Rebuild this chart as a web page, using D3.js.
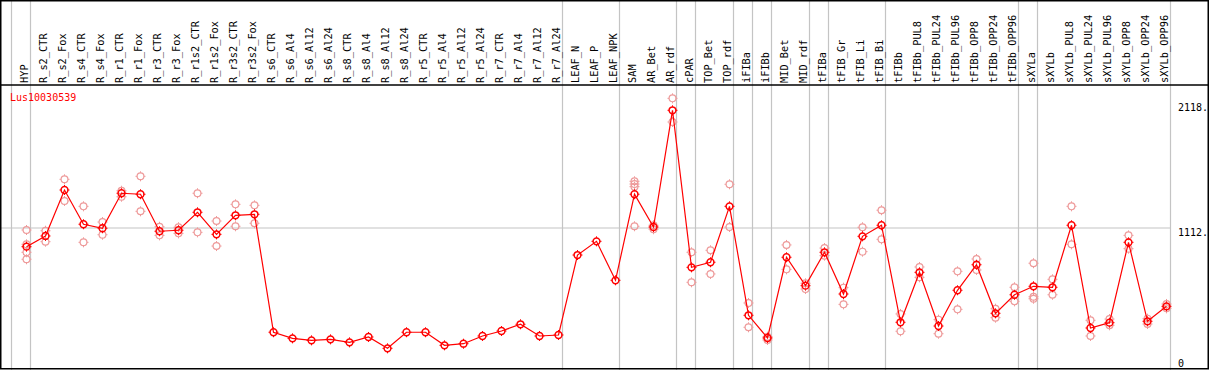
<!DOCTYPE html>
<html>
<head>
<meta charset="utf-8">
<script src="https://cdn.jsdelivr.net/npm/d3@7"></script>
<style>
  html, body { margin: 0; padding: 0; background: #fff; }
  svg { display: block; font-family: "DejaVu Sans Mono", monospace; }
</style>
</head>
<body>
<svg></svg>
<script>
const WIDTH = 1209;
const HEIGHT = 370;
const HEADER = 85;
const GRAY = "#c4c4c4";

const GENE = "Lus10030539";

const COLUMNS = [
  "HYP", "R_s2_CTR", "R_s2_Fox", "R_s4_CTR", "R_s4_Fox", "R_r1_CTR", "R_r1_Fox",
  "R_r3_CTR", "R_r3_Fox", "R_r1s2_CTR", "R_r1s2_Fox", "R_r3s2_CTR", "R_r3s2_Fox",
  "R_s6_CTR", "R_s6_Al4", "R_s6_Al12", "R_s6_Al24", "R_s8_CTR", "R_s8_Al4",
  "R_s8_Al12", "R_s8_Al24", "R_r5_CTR", "R_r5_Al4", "R_r5_Al12", "R_r5_Al24",
  "R_r7_CTR", "R_r7_Al4", "R_r7_Al12", "R_r7_Al24", "LEAF_N", "LEAF_P", "LEAF_NPK",
  "SAM", "AR_Bet", "AR_rdf", "cPAR", "TOP_Bet", "TOP_rdf", "iFIBa", "iFIBb",
  "MID_Bet", "MID_rdf", "tFIBa", "tFIB_Gr", "tFIB_Li", "tFIB_Bi", "tFIBb",
  "tFIBb_PUL8", "tFIBb_PUL24", "tFIBb_PUL96", "tFIBb_OPP8", "tFIBb_OPP24",
  "tFIBb_OPP96", "sXYLa", "sXYLb", "sXYLb_PUL8", "sXYLb_PUL24", "sXYLb_PUL96",
  "sXYLb_OPP8", "sXYLb_OPP24", "sXYLb_OPP96"
];

// mean expression per column
const MEANS = [
  962, 1048, 1417, 1142, 1110, 1391, 1383, 1086, 1094, 1238, 1061, 1214, 1222,
  275, 226, 210, 218, 194, 237, 146, 275, 275, 170, 183, 245, 285, 339, 245, 253,
  895, 1005, 692,
  1383, 1120, 2057, 796, 837, 1286, 411, 229, 877, 649, 917, 582, 1045, 1134,
  355, 756, 325, 612, 817, 427, 576, 644, 636, 1134, 309, 352, 997, 363, 483
];

// individual replicates per column
const REPLICATES = [
  [1096, 981, 917, 861], [1090, 1002], [1503, 1329], [1286, 997], [1160, 1058],
  [1411, 1363], [1527, 1246], [1122, 1053], [1118, 1069], [1391, 1077],
  [1168, 967], [1302, 1126], [1294, 1150],
  [], [], [], [], [], [], [], [], [], [], [], [], [], [], [], [],
  [], [], [],
  [1487, 1465, 1444, 1126], [1134, 1102], [2153, 1963], [917, 676], [933, 743],
  [1463, 1120], [510, 315], [213, 239], [976, 780], [668, 622], [951, 890],
  [633, 499], [1118, 922], [1255, 1021],
  [422, 283], [799, 716], [376, 263], [764, 459], [863, 775], [464, 392],
  [636, 523], [829, 560, 544], [700, 576], [1286, 981], [371, 245], [381, 331],
  [1053, 946], [384, 341], [502, 467]
];

// index of the last column in each tissue group
const GROUP_ENDS = [-1, 0, 28, 31, 34, 35, 37, 38, 39, 41, 42, 45, 52, 53, 60];

const Y_TICKS = [0, 1112, 2118];

let xScale, yScale;

function setUpScales() {
  xScale = d3.scalePoint().domain(COLUMNS).range([26.5, 1166.5]);
  yScale = d3.scaleLinear().domain([0, 2118]).range([366.5, 102.7]);
}

function colX(i) {
  return xScale(COLUMNS[0]) + i * xScale.step();
}

function drawFrame($svg) {
  // group separators
  $svg.append("g")
    .selectAll("line")
    .data(GROUP_ENDS)
    .enter()
    .append("line")
    .attr("x1", d => colX(d) + 4)
    .attr("x2", d => colX(d) + 4)
    .attr("y1", 0)
    .attr("y2", HEIGHT)
    .attr("stroke", GRAY)
    .attr("stroke-width", 1.2);

  $svg.append("line")
    .attr("x1", 0).attr("x2", colX(60) + 4)
    .attr("y1", yScale(1112)).attr("y2", yScale(1112))
    .attr("stroke", GRAY)
    .attr("stroke-width", 1.2);

  $svg.append("line")
    .attr("x1", 0).attr("x2", WIDTH)
    .attr("y1", HEADER).attr("y2", HEADER)
    .attr("stroke", "#000").attr("stroke-width", 1.5);

  $svg.append("rect")
    .attr("x", 0.75).attr("y", 0.75)
    .attr("width", WIDTH - 1.5).attr("height", HEIGHT - 2)
    .attr("fill", "none")
    .attr("stroke", "#000").attr("stroke-width", 1.5);
}

function drawLabels($svg) {
  $svg.append("g")
    .selectAll("text")
    .data(COLUMNS)
    .enter()
    .append("text")
    .attr("transform", d => `translate(${xScale(d) + 1},83) rotate(-90)`)
    .attr("font-size", 10.3)
    .attr("fill", "#000")
    .text(d => d);

  $svg.append("g")
    .selectAll("text")
    .data(Y_TICKS)
    .enter()
    .append("text")
    .attr("x", 1178)
    .attr("y", d => Math.min(yScale(d) + 8, 366.5))
    .attr("font-size", 10)
    .attr("fill", "#000")
    .text(d => (d === 0 ? "0" : d + "."));

  $svg.append("text")
    .attr("x", 10)
    .attr("y", 100.5)
    .attr("font-size", 10)
    .attr("fill", "#ff0000")
    .text(GENE);
}

function marker(g, color, width) {
  g.append("circle")
    .attr("r", 3.4)
    .attr("fill", "none")
    .attr("stroke", color)
    .attr("stroke-width", width);
  g.append("path")
    .attr("d", "M0,-5V-3.5M0,3.5V5M-5,0H-3.5M3.5,0H5")
    .attr("stroke", color)
    .attr("stroke-width", 1);
}

function drawData($svg) {
  let reps = [];
  REPLICATES.forEach((list, i) => list.forEach(v => reps.push({ i: i, v: v })));

  $svg.append("g")
    .selectAll("g")
    .data(reps)
    .enter()
    .append("g")
    .attr("transform", d => `translate(${colX(d.i)},${yScale(d.v)})`)
    .each(function() { marker(d3.select(this), "#ee9a9a", 1.2); });

  let line = d3.line()
    .x((d, i) => colX(i))
    .y(d => yScale(d));

  $svg.append("path")
    .datum(MEANS)
    .attr("d", line)
    .attr("fill", "none")
    .attr("stroke", "#ff0000")
    .attr("stroke-width", 1.2);

  $svg.append("g")
    .selectAll("g")
    .data(MEANS)
    .enter()
    .append("g")
    .attr("transform", (d, i) => `translate(${colX(i)},${yScale(d)})`)
    .each(function() { marker(d3.select(this), "#ff0000", 1.5); });
}

let $svg = d3.select("svg");
$svg.attr("width", WIDTH).attr("height", HEIGHT);

setUpScales();
drawFrame($svg);
drawLabels($svg);
drawData($svg);
</script>
</body>
</html>
